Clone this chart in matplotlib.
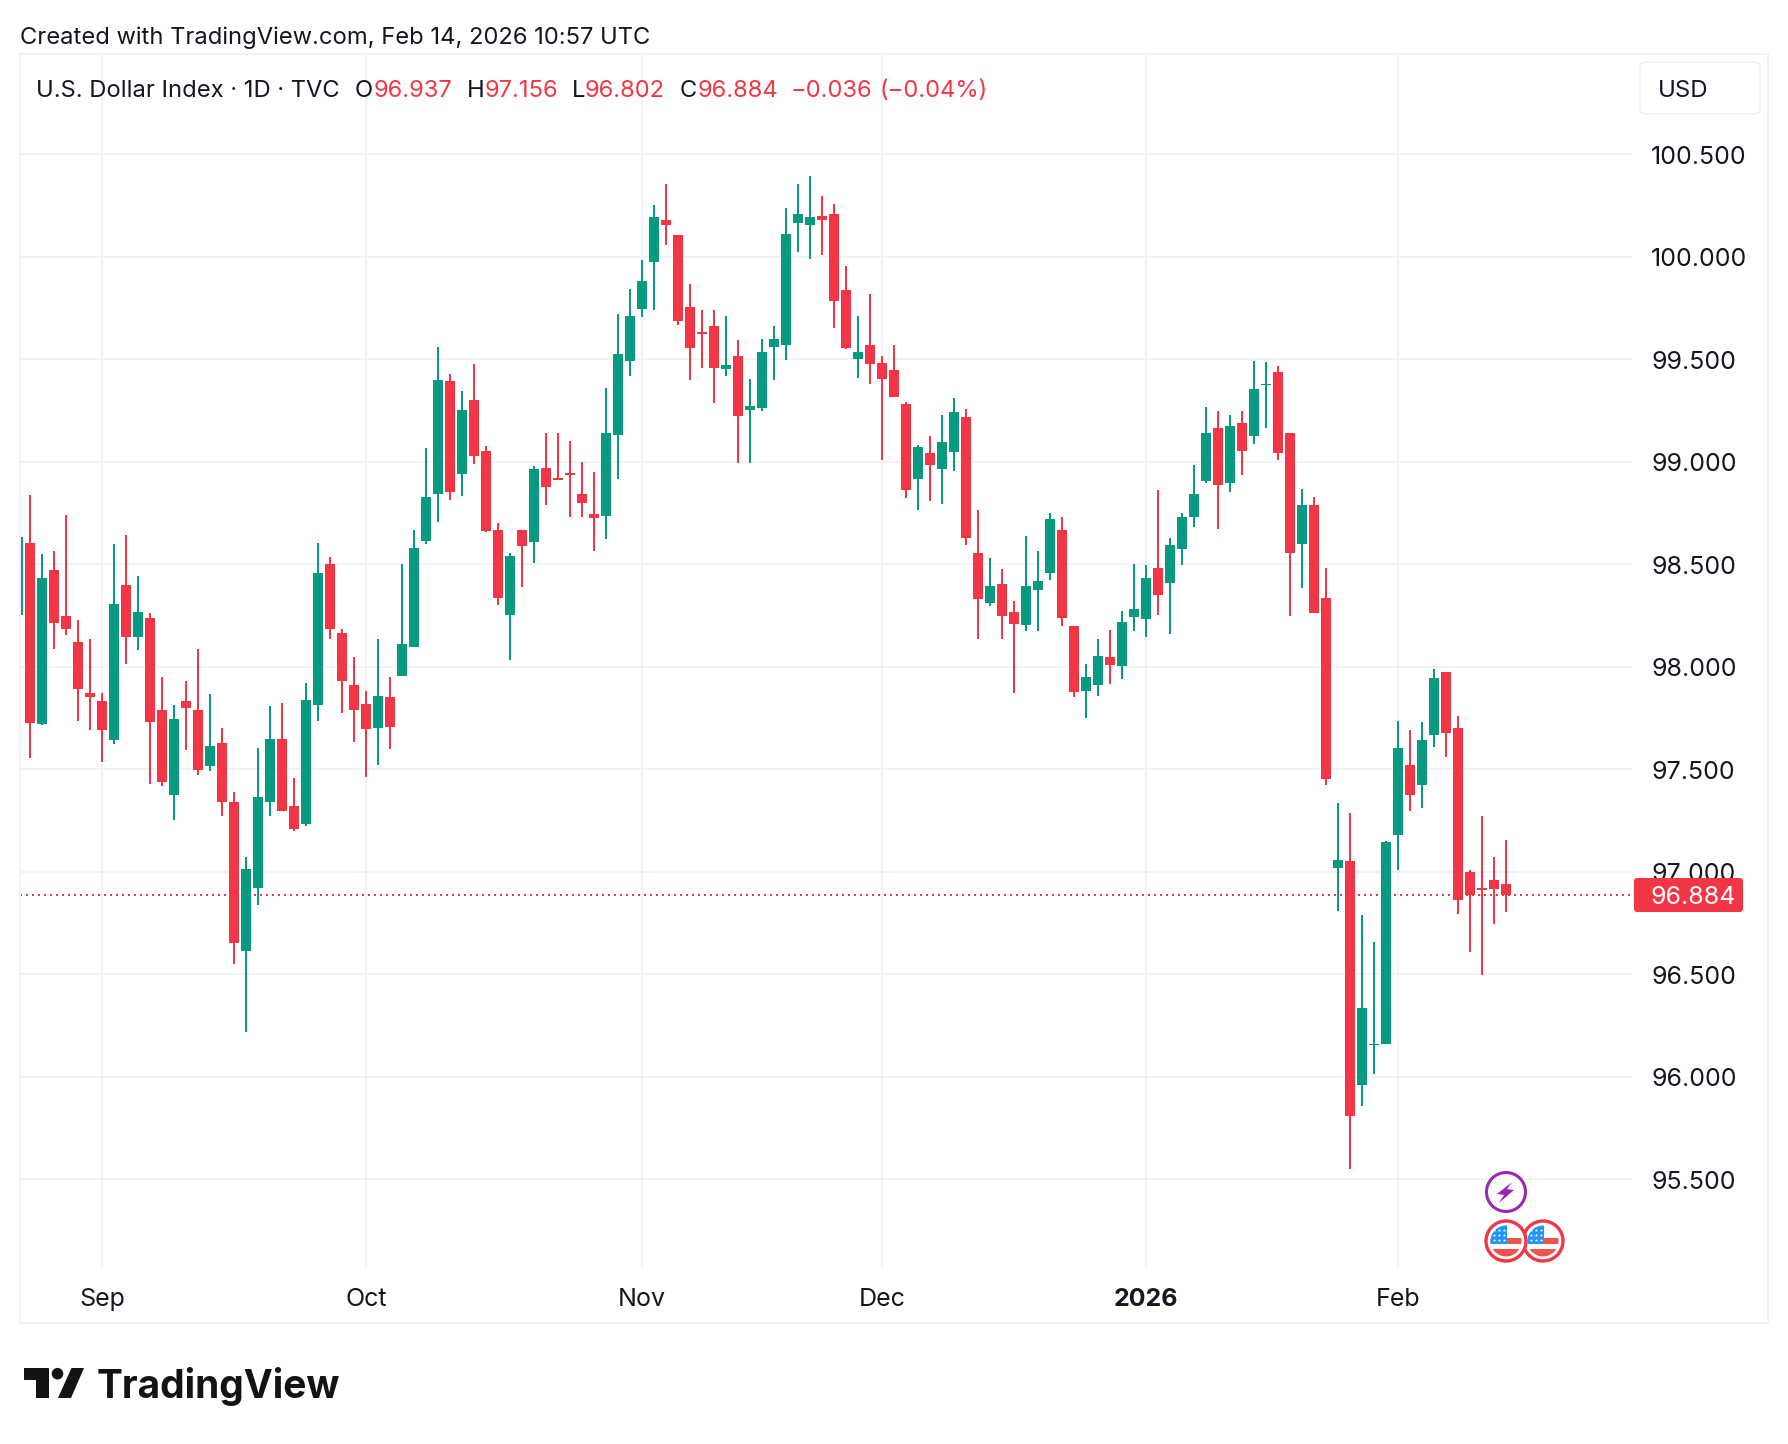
import numpy as np
import matplotlib
matplotlib.use("Agg")
import matplotlib.pyplot as plt
from matplotlib.patches import FancyBboxPatch, Circle, Polygon, Rectangle
from matplotlib.transforms import ScaledTranslation

opens = [98.25, 98.605, 97.72, 98.473, 98.249, 98.121, 97.872, 97.833, 97.642, 98.399, 98.146, 98.239, 97.79, 97.374, 97.833, 97.79, 97.514, 97.628, 97.34, 96.611, 96.92, 97.34, 97.648, 97.319, 97.233, 97.813, 98.498, 98.165, 97.912, 97.819, 97.702, 97.852, 97.955, 98.093, 98.611, 98.84, 99.391, 98.938, 99.299, 99.05, 98.666, 98.252, 98.666, 98.607, 98.968, 98.922, 98.945, 98.841, 98.744, 98.734, 99.128, 99.49, 99.745, 99.974, 100.179, 100.106, 99.755, 99.63, 99.661, 99.451, 99.515, 99.252, 99.261, 99.558, 99.57, 100.164, 100.154, 100.198, 100.208, 99.838, 99.5, 99.568, 99.48, 99.446, 99.28, 98.915, 99.041, 98.963, 99.046, 99.217, 98.554, 98.31, 98.402, 98.266, 98.202, 98.373, 98.456, 98.666, 98.198, 97.88, 97.91, 98.046, 98.002, 98.241, 98.232, 98.48, 98.407, 98.573, 98.729, 98.905, 99.163, 98.895, 99.188, 99.124, 99.372, 99.437, 99.139, 98.598, 98.788, 98.334, 97.017, 97.051, 95.958, 96.153, 96.157, 97.178, 97.521, 97.422, 97.667, 97.975, 97.701, 96.998, 96.92, 96.958, 96.937]
highs = [98.63, 98.835, 98.547, 98.566, 98.737, 98.228, 98.136, 97.872, 98.597, 98.64, 98.444, 98.259, 97.947, 97.813, 97.93, 98.086, 97.868, 97.702, 97.389, 97.07, 97.603, 97.809, 97.823, 97.457, 97.922, 98.605, 98.533, 98.185, 98.047, 97.883, 98.132, 97.951, 98.502, 98.665, 99.066, 99.56, 99.425, 99.343, 99.474, 99.075, 98.7, 98.554, 98.666, 98.977, 99.138, 99.138, 99.099, 98.997, 98.948, 99.357, 99.72, 99.843, 99.984, 100.252, 100.354, 100.106, 99.867, 99.74, 99.739, 99.709, 99.593, 99.403, 99.597, 99.661, 100.237, 100.354, 100.393, 100.295, 100.256, 99.955, 99.709, 99.817, 99.515, 99.568, 99.29, 99.08, 99.124, 99.227, 99.31, 99.256, 98.763, 98.529, 98.476, 98.32, 98.637, 98.563, 98.749, 98.729, 98.198, 98.012, 98.134, 98.178, 98.271, 98.5, 98.495, 98.861, 98.627, 98.749, 98.983, 99.266, 99.246, 99.227, 99.246, 99.49, 99.485, 99.466, 99.139, 98.866, 98.827, 98.48, 97.335, 97.286, 96.788, 96.655, 97.148, 97.735, 97.691, 97.731, 97.989, 97.975, 97.761, 97.006, 97.271, 97.07, 97.156]
lows = [98.25, 97.553, 97.716, 98.086, 98.156, 97.735, 97.691, 97.535, 97.623, 98.014, 98.082, 97.428, 97.418, 97.251, 97.593, 97.471, 97.492, 97.272, 96.551, 96.216, 96.835, 97.272, 97.296, 97.198, 97.222, 97.735, 98.136, 97.774, 97.632, 97.461, 97.521, 97.599, 97.955, 98.093, 98.597, 98.704, 98.812, 98.831, 98.987, 98.656, 98.3, 98.032, 98.388, 98.505, 98.787, 98.909, 98.729, 98.729, 98.563, 98.622, 98.914, 99.417, 99.706, 99.74, 100.057, 99.667, 99.398, 99.456, 99.286, 99.417, 98.994, 98.994, 99.247, 99.398, 99.495, 100.023, 99.989, 100.008, 99.653, 99.55, 99.407, 99.378, 99.008, 99.313, 98.822, 98.763, 98.807, 98.793, 98.954, 98.593, 98.134, 98.295, 98.134, 97.871, 98.173, 98.173, 98.422, 98.198, 97.851, 97.749, 97.856, 97.915, 97.939, 98.173, 98.144, 98.251, 98.159, 98.495, 98.68, 98.895, 98.671, 98.851, 98.934, 99.085, 99.163, 99.007, 98.246, 98.383, 98.261, 97.422, 96.807, 95.547, 95.854, 96.011, 96.157, 97.006, 97.294, 97.309, 97.608, 97.559, 96.792, 96.606, 96.494, 96.744, 96.802]
closes = [98.63, 97.726, 98.434, 98.21, 98.181, 97.891, 97.852, 97.691, 98.307, 98.142, 98.267, 97.73, 97.436, 97.745, 97.798, 97.496, 97.613, 97.34, 96.65, 97.012, 97.364, 97.648, 97.296, 97.208, 97.837, 98.455, 98.181, 97.93, 97.79, 97.695, 97.858, 97.706, 98.111, 98.576, 98.825, 99.4, 98.851, 99.25, 99.026, 98.661, 98.334, 98.539, 98.588, 98.963, 98.875, 98.909, 98.934, 98.797, 98.724, 99.138, 99.523, 99.711, 99.881, 100.193, 100.154, 99.687, 99.554, 99.62, 99.456, 99.471, 99.222, 99.271, 99.534, 99.597, 100.11, 100.208, 100.193, 100.179, 99.784, 99.555, 99.534, 99.476, 99.403, 99.313, 98.861, 99.071, 98.983, 99.095, 99.241, 98.627, 98.329, 98.393, 98.246, 98.207, 98.393, 98.417, 98.72, 98.237, 97.876, 97.949, 98.051, 98.007, 98.217, 98.28, 98.432, 98.349, 98.593, 98.729, 98.841, 99.139, 98.885, 99.173, 99.051, 99.354, 99.38, 99.041, 98.554, 98.788, 98.261, 97.451, 97.055, 95.809, 96.333, 96.161, 97.144, 97.604, 97.373, 97.642, 97.945, 97.676, 96.86, 96.886, 96.911, 96.915, 96.884]

price_ticks = [95.5, 96.0, 96.5, 97.0, 97.5, 98.0, 98.5, 99.0, 99.5, 100.0, 100.5]
month_bars = [7, 29, 52, 72, 94, 115]
month_labels = ["Sep", "Oct", "Nov", "Dec", "2026", "Feb"]
last_price = 96.884
header_title = "Created with TradingView.com, Feb 14, 2026 10:57 UTC"

UP, DOWN = "#089981", "#F23645"
GRID = "#F1F2F3"
INK = "#131722"
FONT = "Inter"
W, H = 1788, 1444
plt.rcParams["font.family"] = [FONT, "DejaVu Sans"]

fig = plt.figure(figsize=(W / 100, H / 100), dpi=100, facecolor="white")
L, R, T, B = 20, 1632, 54, 1267
ax = fig.add_axes([L / W, 1 - B / H, (R - L) / W, (B - T) / H])
ax.set_facecolor("none")
ax.set_xlim(0.1667, 134.5)
ax.set_ylim(95.071, 100.988)
for s in ax.spines.values():
    s.set_visible(False)

ax.set_yticks(price_ticks)
ax.set_yticklabels([f"{p:.3f}" for p in price_ticks], fontsize=18, color=INK)
ax.yaxis.tick_right()
ax.tick_params(axis="y", length=0, pad=13.9)
ax.set_xticks(month_bars)
ax.set_xticklabels(month_labels, fontsize=18, color=INK)
ax.tick_params(axis="x", length=0, pad=15.2)
for lab in ax.get_xticklabels():
    if lab.get_text() == "2026":
        lab.set_fontweight("bold")
down2 = ScaledTranslation(0, -0.6 / 72, fig.dpi_scale_trans)
for lab in ax.get_yticklabels():
    lab.set_transform(lab.get_transform() + down2)
ax.grid(True, color=GRID, lw=1.44, zorder=0)
ax.set_axisbelow(True)

idx = np.arange(len(opens))
o, h, l, c = map(np.array, (opens, highs, lows, closes))
cols = [DOWN if cc < oo else UP for oo, cc in zip(o, c)]
ax.axhline(last_price, color=DOWN, lw=1.44, ls=(0, (1, 2)), zorder=1)
ax.vlines(idx, l, h, colors=cols, lw=1.44, zorder=2)
ax.bar(idx, np.abs(c - o), bottom=np.minimum(o, c), width=10 / 12, color=cols, zorder=3, linewidth=0)

# pixel-space overlay for chrome
ov = fig.add_axes([0, 0, 1, 1])
ov.set_xlim(0, W); ov.set_ylim(H, 0); ov.axis("off"); ov.patch.set_alpha(0)
ov.add_patch(Rectangle((20, 54), 1748, 1269, fill=False, ec="#F1F2F3", lw=1.44))

ov.text(20, 38, header_title, fontsize=17.1, color=INK, va="center", ha="left")
RED = "#F23645"
y0 = 91
for x, t, col in [(36, "U.S. Dollar Index · 1D · TVC", INK), (355, "O", INK), (374, "96.937", RED),
                  (467, "H", INK), (485, "97.156", RED), (572, "L", INK), (585, "96.802", RED),
                  (680, "C", INK), (698, "96.884", RED), (791, "−0.036", RED), (879, "(−0.04%)", RED)]:
    ov.text(x, y0, t, fontsize=17.1, color=col, va="center", ha="left")

ov.add_patch(FancyBboxPatch((1646, 68), 108, 40, boxstyle="round,pad=6,rounding_size=6",
                            fc="white", ec="#F1F2F3", lw=1.2))
ov.text(1658, 91, "USD", fontsize=17.2, color=INK, va="center", ha="left")

ov.add_patch(FancyBboxPatch((1634, 878), 109, 34, boxstyle="round,pad=0,rounding_size=3",
                            fc=RED, ec="none"))
ov.text(1650, 897, f"{last_price:.3f}", fontsize=18, color="white", va="center", ha="left")

# logo
lk = "#131313"
ov.add_patch(Polygon([(24, 1368), (48.5, 1368), (48.5, 1398), (36, 1398), (36, 1379.5), (24, 1379.5)], fc=lk, ec="none"))
ov.add_patch(Circle((57.5, 1373.7), 5.8, fc=lk, ec="none"))
ov.add_patch(Polygon([(71.5, 1368), (84, 1368), (71, 1398), (58, 1398)], fc=lk, ec="none"))
ov.text(97, 1398, "TradingView", fontsize=28, fontweight="bold", color=lk, va="baseline", ha="left", family="Inter")

# event markers
def flag(cx, cy):
    r = 20
    ov.add_patch(Circle((cx, cy), r, fc="white", ec=RED, lw=2.4, zorder=5))
    clip = Circle((cx, cy), r - 4.5, transform=ov.transData)
    items = [Rectangle((cx - r, cy - r), 2 * r, 2 * r, fc="white", ec="none", zorder=6),
             Rectangle((cx - r, cy - 3), 2 * r, 6, fc="#EF5350", ec="none", zorder=6),
             Rectangle((cx - r, cy + 8), 2 * r, 12, fc="#EF5350", ec="none", zorder=6),
             Rectangle((cx - r, cy - r), r + 1, r + 3, fc="#2196F3", ec="none", zorder=7)]
    for it in items:
        ov.add_patch(it)
        it.set_clip_path(clip)
    xs = [cx - 12, cx - 7, cx - 2]
    ys = [cy - 11, cy - 6, cy - 1]
    px = [a for a in xs for b in ys]
    py = [b for a in xs for b in ys]
    ov.scatter(px, py, s=6, marker="*", c="white", linewidths=0, zorder=8)

flag(1543, 1241)
flag(1506, 1241)
ov.add_patch(Circle((1506, 1192), 19.5, fc="white", ec="#9C27B0", lw=2.2, zorder=5))
ov.add_patch(Polygon([(1512, 1182), (1497, 1194), (1504, 1195), (1499, 1203), (1514, 1190), (1507, 1189)],
                     fc="#9C27B0", ec="none", zorder=6))

fig.savefig("out.png", dpi=100, facecolor="white")
